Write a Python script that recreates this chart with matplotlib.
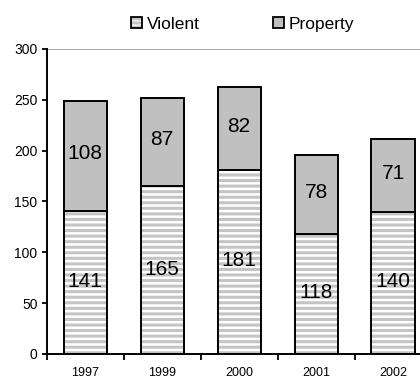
import matplotlib
matplotlib.use("Agg")
import matplotlib.pyplot as plt
import numpy as np
from matplotlib.patches import Patch
from matplotlib.legend_handler import HandlerTuple

plt.rcParams['font.family'] = ['Liberation Sans', 'DejaVu Sans']
plt.rcParams['hatch.linewidth'] = 2.2
plt.rcParams['hatch.color'] = '#c4c4c4'

years = ['1997', '1999', '2000', '2001', '2002']
violent = [141, 165, 181, 118, 140]
prop = [108, 87, 82, 78, 71]

fig = plt.figure(figsize=(4.2, 3.81), dpi=100)
ax = fig.add_axes([0.111, 0.0709, 0.889, 0.8005])

x = np.arange(len(years))
w = 0.56
ax.bar(x, violent, w, facecolor='white', edgecolor='#c4c4c4', hatch='---', linewidth=0, zorder=2)
ax.bar(x, violent, w, facecolor='none', edgecolor='black', linewidth=1.4, zorder=3)
ax.bar(x, prop, w, bottom=violent, facecolor='#c0c0c0', edgecolor='black', linewidth=1.4, zorder=3)

for xi, v, p in zip(x, violent, prop):
    ax.text(xi, v / 2 + 1, str(v), ha='center', va='center', fontsize=15, zorder=4)
    ax.text(xi, v + p / 2 + 2, str(p), ha='center', va='center', fontsize=15, zorder=4)

ax.set_xlim(-0.5, 4.35)
ax.set_ylim(0, 300)
ax.set_yticks(range(0, 301, 50))
ax.set_xticks(x)
ax.set_xticklabels(years, fontsize=9)
ax.set_xticks(np.arange(-0.5, 4.4, 1), minor=True)
ax.tick_params(axis='x', which='major', length=0, pad=9.5)
ax.tick_params(axis='x', which='minor', length=4.5, width=1.3, direction='out')
ax.tick_params(axis='y', length=3.6, width=1.3, direction='out', labelsize=10, pad=3)
ax.axhline(300, color='#999999', linewidth=1.2, zorder=1)

for s in ['top', 'right']:
    ax.spines[s].set_visible(False)
for s in ['left', 'bottom']:
    ax.spines[s].set_linewidth(1.4)
    ax.spines[s].set_color('black')

h_violent = (Patch(facecolor='white', edgecolor='#c4c4c4', linewidth=0, hatch='----'),
             Patch(facecolor='none', edgecolor='black', linewidth=1.3))
h_prop = Patch(facecolor='#c0c0c0', edgecolor='black', linewidth=1.3)
fig.legend([h_violent, h_prop], ['Violent', 'Property'], loc='center left',
           bbox_to_anchor=(0.312, 0.937), ncol=2, frameon=False, fontsize=12.5,
           handlelength=0.63, handleheight=0.63, handletextpad=0.3, columnspacing=4.2,
           borderpad=0, borderaxespad=0, handler_map={tuple: HandlerTuple(ndivide=1)})

fig.savefig('out.png', dpi=100)
